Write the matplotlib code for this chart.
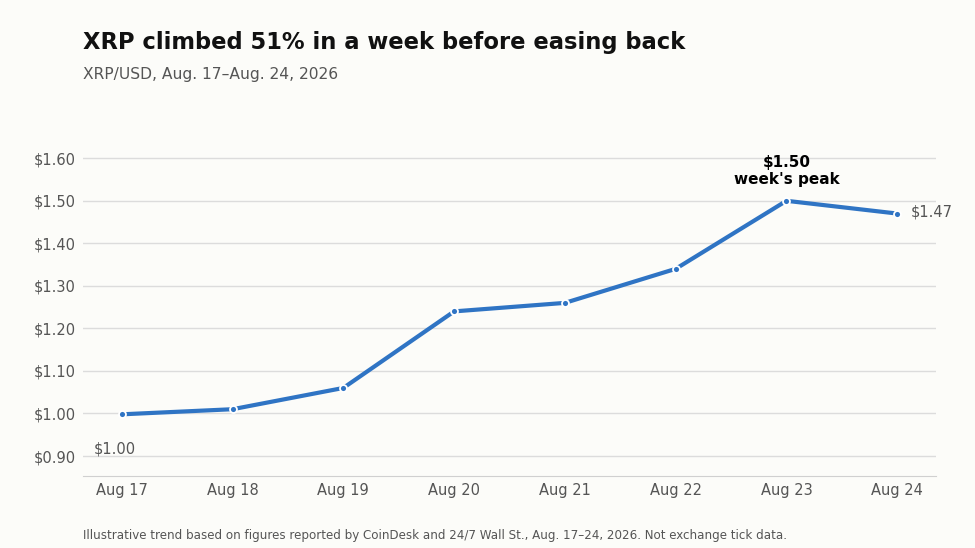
import matplotlib.pyplot as plt

plt.rcParams['font.family'] = ['DejaVu Sans']

days = ['Aug 17', 'Aug 18', 'Aug 19', 'Aug 20', 'Aug 21', 'Aug 22', 'Aug 23', 'Aug 24']
price = [0.998, 1.01, 1.06, 1.24, 1.26, 1.34, 1.50, 1.47]
yticks = [0.90, 1.00, 1.10, 1.20, 1.30, 1.40, 1.50, 1.60]

bg = '#fcfcf9'
blue = '#2f74c4'
grey = '#555555'

fig = plt.figure(figsize=(9.75, 5.48), dpi=100, facecolor=bg)
ax = fig.add_axes([83 / 975, 1 - 476 / 548, (936 - 83) / 975, (476 - 137) / 548])
ax.set_facecolor(bg)

x = list(range(len(days)))
ax.plot(x, price, color=blue, lw=3, marker='o', ms=5,
        markerfacecolor=blue, markeredgecolor='white', markeredgewidth=1.3, zorder=3)

ax.set_xlim(-0.35, 7.35)
ax.set_ylim(0.853, 1.65)
ax.set_yticks(yticks)
ax.set_yticklabels([f'${v:.2f}' for v in yticks])
ax.set_xticks(x)
ax.set_xticklabels(days)
ax.tick_params(axis='both', length=0, labelsize=10.5, colors=grey)
ax.tick_params(axis='x', pad=5)
ax.tick_params(axis='y', pad=5)

ax.grid(axis='y', color='#dcdcdc', lw=1)
ax.set_axisbelow(True)
for s in ['top', 'right', 'left']:
    ax.spines[s].set_visible(False)
ax.spines['bottom'].set_color('#d0d0d0')

# annotations
ax.annotate(f'${price[6]:.2f}\nweek\'s peak', (6, price[6]), xytext=(0, 10),
            textcoords='offset points', ha='center', va='bottom',
            fontsize=11, fontweight='bold', color='black')
ax.annotate(f'${price[7]:.2f}', (7, price[7]), xytext=(10, 1),
            textcoords='offset points', ha='left', va='center',
            fontsize=10.5, color=grey)
ax.annotate('$1.00', (0, price[0]), xytext=(-20, -25),
            textcoords='offset points', ha='left', va='center',
            fontsize=10.5, color=grey)

fig.text(83 / 975, 1 - 42 / 548, 'XRP climbed 51% in a week before easing back',
         fontsize=16.25, fontweight='bold', va='center', ha='left', color='#111111')
fig.text(83 / 975, 1 - 75 / 548, 'XRP/USD, Aug. 17\u2013Aug. 24, 2026',
         fontsize=11.2, va='center', ha='left', color=grey)
fig.text(83 / 975, 1 - 536 / 548,
         'Illustrative trend based on figures reported by CoinDesk and 24/7 Wall St., '
         'Aug. 17\u201324, 2026. Not exchange tick data.',
         fontsize=8.6, va='center', ha='left', color=grey)

fig.savefig('out.png', dpi=100, facecolor=bg)
